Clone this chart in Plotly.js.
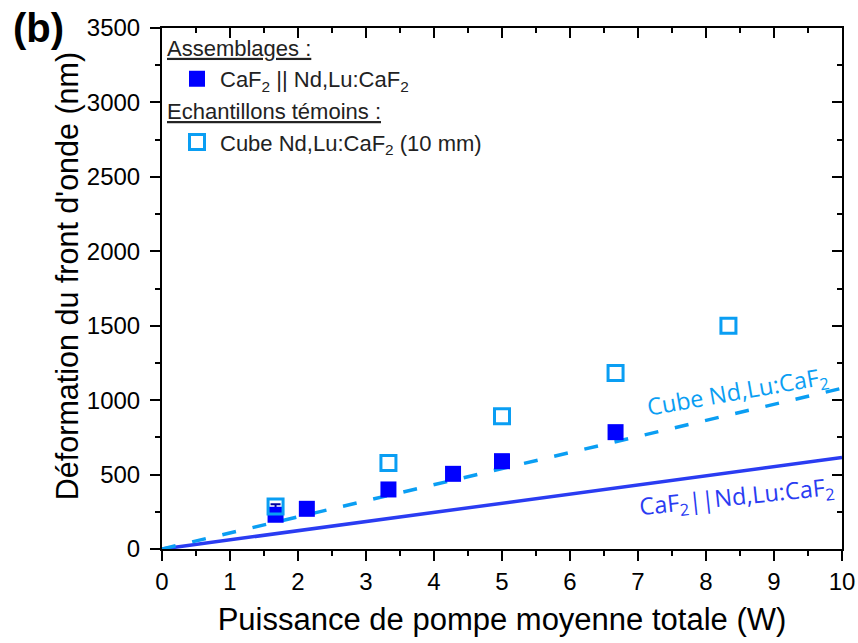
<!DOCTYPE html>
<html><head><meta charset="utf-8">
<script src="https://cdn.plot.ly/plotly-3.0.1.min.js"></script>
<style>html,body{margin:0;padding:0;background:#fff}#chart{width:858px;height:643px}</style>
</head><body><div id="chart"></div>
<script>
// Data
const powerAssemblage = [1.67, 2.13, 3.33, 4.28, 5.0, 6.67];
const defAssemblage   = [230, 270, 400, 505, 590, 785];
const errAssemblagePlus  = [70, 40, 40, 40, 40, 40];
const errAssemblageMinus = [40, 40, 40, 40, 40, 40];

const powerCube = [1.67, 3.33, 5.0, 6.67, 8.33];
const defCube   = [285, 578, 891, 1182, 1500];

const fitPower      = [0, 10];
const fitAssemblage = [0, 615];
const fitCube       = [0, 1080];

const xTickVals = [0,1,2,3,4,5,6,7,8,9,10];
const yTickVals = [0,500,1000,1500,2000,2500,3000,3500];

const cBlue = '#0000ff', cLine = '#2a3cf2', cLight = '#0a9ef3';

const traces = [
  {x: fitPower, y: fitAssemblage, mode:'lines', line:{color:cLine, width:3.5}, showlegend:false, hoverinfo:'skip'},
  {x: fitPower, y: fitCube, mode:'lines', line:{color:cLight, width:3.5, dash:'14px,17px'}, showlegend:false, hoverinfo:'skip'},
  {x: powerAssemblage, y: defAssemblage, mode:'markers',
   name:'CaF<sub>2</sub> || Nd,Lu:CaF<sub>2</sub>',
   legendgroup:'a', legendgrouptitle:{text:'<span style="text-decoration:underline">Assemblages :</span>'},
   marker:{symbol:'square', size:16, color:cBlue},
   error_y:{type:'data', symmetric:false, array:errAssemblagePlus, arrayminus:errAssemblageMinus, color:'#0000a0', thickness:2, width:5}},
  {x: powerCube, y: defCube, mode:'markers',
   name:'Cube Nd,Lu:CaF<sub>2</sub> (10 mm)',
   legendgroup:'b', legendgrouptitle:{text:'<span style="text-decoration:underline">Echantillons témoins :</span>'},
   marker:{symbol:'square-open', size:15, color:cLight, line:{width:3, color:cLight}}},
  {x:[0], y:[0], xaxis:'x2', yaxis:'y2', mode:'markers', marker:{opacity:0}, showlegend:false, hoverinfo:'skip'}
];

const axisCommon = {showline:true, linewidth:2, linecolor:'#000', showgrid:false, zeroline:false, tickwidth:2, tickcolor:'#000'};

const layout = {
  width:858, height:643,
  margin:{l:162, r:16, t:28, b:93.5, autoexpand:false},
  paper_bgcolor:'#fff', plot_bgcolor:'#fff',
  font:{family:'"Liberation Sans", Arial, sans-serif', color:'#000', size:24},
  showlegend:true,
  legend:{x:0, y:1.003, xanchor:'left', yanchor:'top', bgcolor:'rgba(0,0,0,0)', borderwidth:0,
          font:{size:22, color:'#222'}, grouptitlefont:{size:22, color:'#222'}, tracegroupgap:0,
          indentation:12, itemwidth:36, traceorder:'grouped'},
  xaxis:Object.assign({}, axisCommon, {range:[0,10], tickvals:xTickVals, ticks:'outside', ticklen:10,
        minor:{dtick:0.5, tick0:0, ticks:'outside', ticklen:5, tickwidth:2, tickcolor:'#000'},
        tickfont:{size:24},
        title:{text:'Puissance de pompe moyenne totale (W)', font:{size:31}, standoff:15}}),
  yaxis:Object.assign({}, axisCommon, {range:[0,3500], tickvals:yTickVals, ticks:'outside', ticklen:10,
        minor:{dtick:250, tick0:0, ticks:'outside', ticklen:5, tickwidth:2, tickcolor:'#000'},
        tickfont:{size:24}, ticklabelstandoff:5}),
  xaxis2:Object.assign({}, axisCommon, {overlaying:'x', anchor:'y', side:'top', range:[0,10], tickvals:xTickVals,
        ticks:'inside', ticklen:10, showticklabels:false,
        minor:{dtick:0.5, tick0:0, ticks:'inside', ticklen:5, tickwidth:2, tickcolor:'#000'}}),
  yaxis2:Object.assign({}, axisCommon, {overlaying:'y', anchor:'x', side:'right', range:[0,3500], tickvals:yTickVals,
        ticks:'inside', ticklen:10, showticklabels:false,
        minor:{dtick:250, tick0:0, ticks:'inside', ticklen:5, tickwidth:2, tickcolor:'#000'}}),
  annotations:[
    {text:'<b>(b)</b>', xref:'paper', yref:'paper', x:-0.222, y:1.0, xanchor:'left', yanchor:'middle', showarrow:false,
     font:{size:40, color:'#000'}},
    {text:"Déformation du front d'onde (nm)", xref:'paper', yref:'paper', x:-0.138, y:0.524, xanchor:'center', yanchor:'middle',
     textangle:-90, showarrow:false, font:{size:30.5, color:'#000'}},
    {text:'Cube Nd,Lu:CaF<sub>2</sub>', x:8.47, y:1050, xref:'x', yref:'y', showarrow:false, textangle:-10,
     font:{family:'"Open Sans", sans-serif', size:23.5, color:cLight}},
    {text:'CaF<sub>2</sub>||Nd,Lu:CaF<sub>2</sub>', x:8.46, y:346, xref:'x', yref:'y', showarrow:false, textangle:-6,
     font:{family:'"Open Sans", sans-serif', size:23.5, color:cLine}}
  ]
};

Plotly.newPlot('chart', traces, layout, {staticPlot:true, displayModeBar:false});
</script>
</body></html>
